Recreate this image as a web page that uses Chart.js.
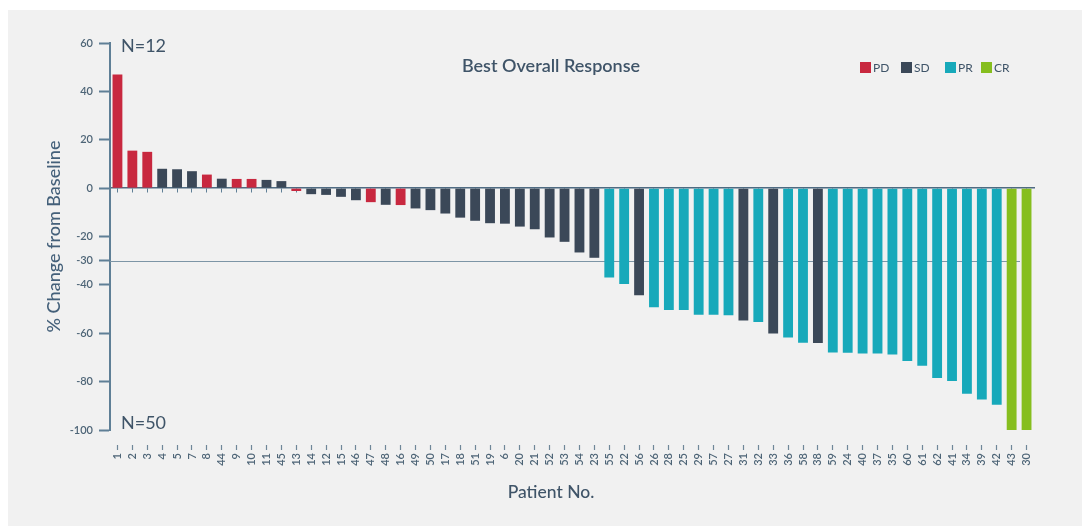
<!DOCTYPE html>
<html>
<head>
<meta charset="utf-8">
<script src="https://cdn.jsdelivr.net/npm/chart.js@4/dist/chart.umd.min.js"></script>
<style>
  html, body { margin: 0; padding: 0; background: #fff; }
  #panel { position: absolute; left: 8px; top: 10px; width: 1074px; height: 516px; background: #f1f1f1; }
  #wrap { position: absolute; left: 0; top: 0; width: 1089px; height: 530px; }
</style>
</head>
<body>
<div id="panel"></div>
<div id="wrap"><canvas id="chart" width="1089" height="530"></canvas></div>
<script>
// patient order along the x axis
const PATIENTS = ['1', '2', '3', '4', '5', '7', '8', '44', '9', '10', '11', '45', '13', '14', '12', '15',
  '46', '47', '48', '16', '49', '50', '17', '18', '51', '19', '6', '20', '21', '52', '53', '54', '23',
  '55', '22', '56', '26', '28', '25', '29', '57', '27', '31', '32', '33', '36', '58', '38', '59', '24',
  '40', '37', '35', '60', '61', '62', '41', '34', '39', '42', '43', '30'];

// best % change from baseline, same order
const CHANGE = [47, 15.5, 15, 8, 7.8, 7, 5.6, 3.9, 3.8, 3.8, 3.4, 2.9, -1.2, -2.5, -2.8, -3.6,
  -5, -5.8, -6.9, -7, -8.4, -9.1, -10.5, -12.2, -13.5, -14.5, -14.7, -15.9, -17, -20.4, -22.2, -26.6, -28.8,
  -36.9, -39.6, -44.3, -49.3, -50.4, -50.4, -52.4, -52.4, -52.6, -54.7, -55.4, -60.1, -61.8, -63.9, -64, -68,
  -68.1, -68.4, -68.4, -68.8, -71.5, -73.4, -78.5, -79.7, -85, -87.4, -89.6, -100, -100];

// best overall response per patient
const RESPONSE = ['PD', 'PD', 'PD', 'SD', 'SD', 'SD', 'PD', 'SD', 'PD', 'PD', 'SD', 'SD', 'PD', 'SD', 'SD', 'SD',
  'SD', 'PD', 'SD', 'PD', 'SD', 'SD', 'SD', 'SD', 'SD', 'SD', 'SD', 'SD', 'SD', 'SD', 'SD', 'SD', 'SD',
  'PR', 'PR', 'SD', 'PR', 'PR', 'PR', 'PR', 'PR', 'PR', 'SD', 'PR', 'SD', 'PR', 'PR', 'SD', 'PR',
  'PR', 'PR', 'PR', 'PR', 'PR', 'PR', 'PR', 'PR', 'PR', 'PR', 'PR', 'CR', 'CR'];

const RESPONSE_TYPES = ['PD', 'SD', 'PR', 'CR'];
const RESPONSE_COLORS = ['#c8283f', '#3b4858', '#17a9ba', '#86be1e'];

const Y_TICKS = [60, 40, 20, 0, -20, -30, -40, -60, -80, -100];
const THRESHOLD = -30;

const AXIS = '#5f7f96';
const TEXT = '#3f5468';
const FONT = "Lato, 'Open Sans', sans-serif";

function colorFor(resp) {
  return RESPONSE_COLORS[RESPONSE_TYPES.indexOf(resp)];
}

// -30% threshold line under the bars
const threshold = {
  id: 'threshold',
  beforeDatasetsDraw(chart) {
    const { ctx, chartArea, scales } = chart;
    ctx.save();
    ctx.strokeStyle = '#7d95a6';
    ctx.lineWidth = 1;
    const ty = Math.round(scales.y.getPixelForValue(THRESHOLD)) + 0.5;
    ctx.beginPath();
    ctx.moveTo(chartArea.left, ty);
    ctx.lineTo(chartArea.right - 14, ty);
    ctx.stroke();
    ctx.restore();
  },
};

// headings, N counts, x title and the response key
const annotations = {
  id: 'annotations',
  afterDraw(chart) {
    const { ctx } = chart;
    ctx.save();
    ctx.fillStyle = TEXT;
    ctx.textBaseline = 'middle';

    const nUp = CHANGE.filter((v) => v > 0).length;
    const nDown = CHANGE.filter((v) => v <= 0).length;
    ctx.font = `18px ${FONT}`;
    ctx.textAlign = 'left';
    ctx.fillText('N=' + nUp, 121, 46);
    ctx.fillText('N=' + nDown, 121, 423);

    ctx.font = `600 18px ${FONT}`;
    ctx.textAlign = 'center';
    ctx.fillText('Best Overall Response', 551, 66);

    ctx.font = `500 17.5px ${FONT}`;
    ctx.fillText('Patient No.', 551, 492);

    ctx.font = `12px ${FONT}`;
    ctx.textAlign = 'left';
    const starts = [860, 901, 945, 981];
    RESPONSE_TYPES.forEach((r, i) => {
      ctx.fillStyle = RESPONSE_COLORS[i];
      ctx.fillRect(starts[i], 62, 11, 11);
      ctx.fillStyle = TEXT;
      ctx.fillText(r, starts[i] + 13, 68);
    });
    ctx.restore();
  },
};

new Chart(document.getElementById('chart'), {
  type: 'bar',
  data: {
    labels: PATIENTS,
    datasets: [{
      data: CHANGE,
      backgroundColor: RESPONSE.map(colorFor),
      borderWidth: 0,
      barPercentage: 0.66,
      categoryPercentage: 1,
    }],
  },
  options: {
    responsive: false,
    animation: false,
    layout: { padding: { left: 41, top: 43, right: 55, bottom: 26 } },
    plugins: { legend: { display: false }, tooltip: { enabled: false } },
    scales: {
      x: {
        offset: true,
        grid: {
          drawOnChartArea: false,
          offset: false,
          tickLength: 20,
          tickBorderDash: [0, 15, 5, 100],
          tickColor: '#6f8798',
          tickWidth: 1.2,
        },
        border: { display: false },
        ticks: {
          autoSkip: false,
          minRotation: 90,
          maxRotation: 90,
          padding: 3,
          color: '#4e6577',
          font: { family: FONT, size: 11, weight: '600' },
        },
        afterFit(scale) { scale.height = 74; },
      },
      // zero line with small marks under every bar
      x2: {
        type: 'category',
        position: { y: 0 },
        offset: true,
        grid: {
          drawOnChartArea: false,
          offset: false,
          tickLength: 4,
          tickColor: AXIS,
          tickWidth: 1,
        },
        border: { color: '#4f6b82', width: 1.5 },
        ticks: { display: false },
      },
      y: {
        min: -100,
        max: 60,
        afterBuildTicks(scale) {
          scale.ticks = Y_TICKS.map((value) => ({ value }));
        },
        grid: {
          drawOnChartArea: false,
          color: AXIS,
          tickLength: 11,
          tickColor: AXIS,
          tickWidth: 2,
        },
        border: { color: AXIS, width: 2 },
        ticks: {
          padding: 6,
          color: '#4e6577',
          font: { family: FONT, size: 11, weight: '600' },
        },
        title: {
          display: true,
          text: '% Change from Baseline',
          color: '#44607a',
          font: { family: FONT, size: 18, weight: '500' },
          padding: { top: 2, bottom: 2 },
        },
        afterFit(scale) { scale.width = 69; },
      },
    },
  },
  plugins: [threshold, annotations],
});
</script>
</body>
</html>
